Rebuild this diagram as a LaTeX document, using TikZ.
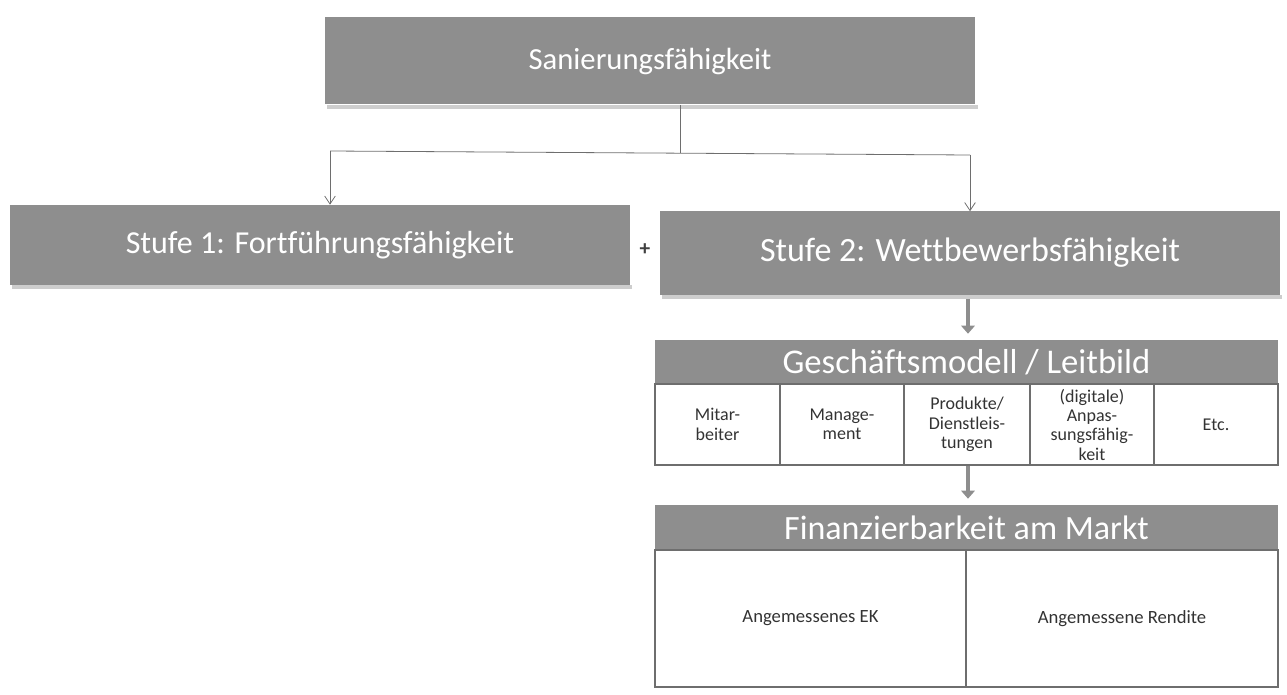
\documentclass[tikz,border=0pt]{standalone}
\usepackage{fontspec}
\setmainfont[Ligatures={NoCommon}]{Carlito}
\usetikzlibrary{arrows.meta,calc}
\definecolor{boxgray}{RGB}{142,142,142}
\definecolor{shadowgray}{RGB}{205,205,205}
\definecolor{linegray}{RGB}{110,110,110}
\tikzset{
  hbox/.style={fill=boxgray, draw=none, text=white, inner sep=0pt, anchor=center},
  cell/.style={draw=linegray, line width=1.2pt, fill=white, inner sep=0pt, align=center, font=\fontsize{13.5}{14.5}\selectfont, text=black!80},
  thinarrow/.style={draw=linegray, line width=0.6pt, -{Straight Barb[length=6pt,width=8pt]}},
  fatarrow/.style={draw=boxgray, line width=3.5pt, -{Triangle[length=6pt,width=10pt]}},
  shadow/.style={fill=shadowgray, draw=none}
}
\begin{document}
\begin{tikzpicture}[x=0.75pt,y=-0.75pt]
\useasboundingbox (0,0) rectangle (1287,695);
% shadows
\fill[shadowgray] (327,105) rectangle (978,109);
\fill[shadowgray] (12,285) rectangle (632,289);
\fill[shadowgray] (662,295) rectangle (1282,299);
% main boxes
\node[hbox, minimum width=487.5pt, minimum height=65.25pt, font=\fontsize{23}{27}\selectfont] (top) at (650,61) {Sanierungsfähigkeit};
\node[hbox, minimum width=465pt, minimum height=60pt, font=\fontsize{24}{28}\selectfont] (s1) at (320,245) {Stufe 1: Fortführungsfähigkeit};
\node[hbox, minimum width=465pt, minimum height=62.25pt, font=\fontsize{25.5}{29}\selectfont] (s2) at (970,253) {Stufe 2: Wettbewerbsfähigkeit};
\node[font=\fontsize{16}{18}\selectfont\bfseries, text=black!75] (plus) at (645,250) {+};
% Geschaeftsmodell
\node[hbox, minimum width=467.25pt, minimum height=33pt, font=\fontsize{26}{30}\selectfont] (gm) at (966.5,362) {Geschäftsmodell / Leitbild};
\node[cell, minimum width=93.75pt, minimum height=60.75pt] (c1) at (717.5,424.5) {Mitar-\\beiter};
\node[cell, minimum width=93pt, minimum height=60.75pt] (c2) at (842,424.5) {Manage-\\ment};
\node[cell, minimum width=94.5pt, minimum height=60.75pt] (c3) at (967,424.5) {Produkte/\\Dienstleis-\\tungen};
\node[cell, minimum width=93pt, minimum height=60.75pt] (c4) at (1092,424.5) {(digitale)\\Anpas-\\sungsfähig-\\keit};
\node[cell, minimum width=93pt, minimum height=60.75pt] (c5) at (1216,424.5) {Etc.};
% Finanzierbarkeit
\node[hbox, minimum width=467.25pt, minimum height=33.75pt, font=\fontsize{25.5}{29}\selectfont] (fm) at (966.5,527.5) {Finanzierbarkeit am Markt};
\node[cell, minimum width=233.25pt, minimum height=102.75pt, font=\fontsize{14}{16}\selectfont] (f1) at (810.5,618.5) {Angemessenes EK};
\node[cell, minimum width=234pt, minimum height=102.75pt, font=\fontsize{14}{16}\selectfont] (f2) at (1122,618.5) {Angemessene Rendite};
% connectors
\coordinate (j) at (680,153);
\coordinate (jl) at (330,151);
\coordinate (jr) at (970,155);
\coordinate (ax) at (968,0);
\draw[draw=linegray, line width=0.6pt] (top.south -| j) -- (j);
\draw[draw=linegray, line width=0.6pt] (jl) -- (jr);
\draw[thinarrow] (jl) -- (jl |- s1.north);
\draw[thinarrow] (jr) -- (jr |- s2.north);
\draw[fatarrow] ($(s2.south -| ax)+(0,4)$) -- ($(gm.north -| ax)+(0,-6)$);
\draw[fatarrow] (c3.south -| ax) -- ($(fm.north -| ax)+(0,-6)$);
\end{tikzpicture}
\end{document}
